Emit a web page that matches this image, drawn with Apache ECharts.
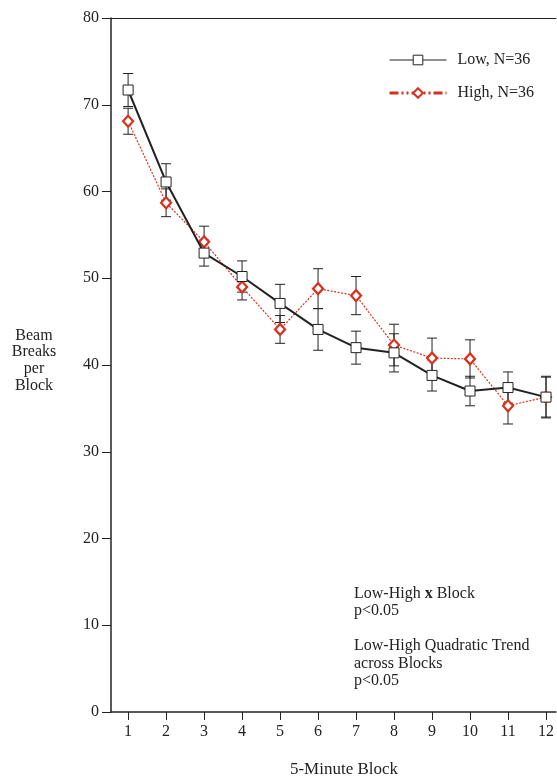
<!DOCTYPE html>
<html><head><meta charset="utf-8">
<script src="https://cdn.jsdelivr.net/npm/echarts@6/dist/echarts.min.js"></script>
<style>html,body{margin:0;padding:0;background:#fff}#c{width:557px;height:780px}</style>
</head><body><div id="c"></div>
<script>
var blocks = [1,2,3,4,5,6,7,8,9,10,11,12];
var lowMean  = [71.7, 61.1, 52.9, 50.2, 47.1, 44.1, 42.0, 41.4, 38.8, 37.0, 37.4, 36.3];
var lowSE    = [1.9, 2.1, 1.5, 1.8, 2.2, 2.4, 1.9, 2.2, 1.8, 1.7, 1.8, 2.4];
var highMean = [68.1, 58.7, 54.2, 49.0, 44.1, 48.8, 48.0, 42.3, 40.8, 40.7, 35.3, 36.3];
var highSE   = [1.5, 1.6, 1.8, 1.5, 1.6, 2.3, 2.2, 2.4, 2.3, 2.2, 2.1, 2.3];
var yTicks = [0,10,20,30,40,50,60,70,80];

var FONT = '"Liberation Serif","DejaVu Serif",serif';
var RED = '#d9301c';

function pairs(m){ return blocks.map(function(b,i){ return [b, m[i]]; }); }
function errData(m, s){ return blocks.map(function(b,i){ return [b, m[i]-s[i], m[i]+s[i]]; }); }

function errRender(params, api){
  var x = api.value(0);
  var lo = api.coord([x, api.value(1)]);
  var hi = api.coord([x, api.value(2)]);
  var w = 5;
  var st = {stroke:'#222', lineWidth:1};
  return {type:'group', children:[
    {type:'line', shape:{x1:lo[0],y1:lo[1],x2:hi[0],y2:hi[1]}, style:st},
    {type:'line', shape:{x1:lo[0]-w,y1:lo[1],x2:lo[0]+w,y2:lo[1]}, style:st},
    {type:'line', shape:{x1:hi[0]-w,y1:hi[1],x2:hi[0]+w,y2:hi[1]}, style:st}
  ]};
}

var chart = echarts.init(document.getElementById('c'));
chart.setOption({
  animation:false,
  backgroundColor:'#fff',
  grid:{left:111, top:18, right:0, bottom:68},
  legend:{
    orient:'vertical', left:383, top:47, itemWidth:57, itemHeight:12, itemGap:17,
    textStyle:{fontFamily:FONT, fontSize:16, color:'#222', padding:[0,0,0,6]},
    data:[
      {name:'Low, N=36', itemStyle:{color:'#fff', borderColor:'#222', borderWidth:1}, lineStyle:{color:'#222', width:1, type:'solid'}},
      {name:'High, N=36', itemStyle:{color:'#fff', borderColor:RED, borderWidth:2}, lineStyle:{color:RED, width:3, type:[9,3,2,3,2,3]}}
    ]
  },
  xAxis:[{
    type:'value', min:0.55, max:12.26,
    axisLine:{show:true, lineStyle:{color:'#222', width:1.5}},
    axisTick:{show:true, customValues:blocks, length:8, lineStyle:{color:'#222', width:1}},
    axisLabel:{customValues:blocks, fontFamily:FONT, fontSize:16, color:'#222', margin:12},
    splitLine:{show:false}
  },{
    type:'value', position:'top', min:0.55, max:12.26,
    axisLine:{show:true, lineStyle:{color:'#222', width:1}},
    axisTick:{show:false}, axisLabel:{show:false}, splitLine:{show:false}
  }],
  yAxis:{
    type:'value', min:0, max:80, interval:10,
    axisLine:{show:true, lineStyle:{color:'#222', width:1.5}},
    axisTick:{show:true, length:9, lineStyle:{color:'#222'}},
    axisLabel:{fontFamily:FONT, fontSize:16, color:'#222', margin:12},
    splitLine:{show:false}
  },
  series:[
    {type:'custom', name:'lowErr', renderItem:errRender, data:errData(lowMean, lowSE), z:1, silent:true},
    {type:'custom', name:'highErr', renderItem:errRender, data:errData(highMean, highSE), z:1, silent:true},
    {type:'line', name:'High, N=36', data:pairs(highMean), symbol:'diamond', symbolSize:[10,11],
     lineStyle:{color:RED, width:1.2, type:[2,1.5]},
     itemStyle:{color:'#fff', borderColor:RED, borderWidth:2.2}, z:3},
    {type:'line', name:'Low, N=36', data:pairs(lowMean), symbol:'rect', symbolSize:10,
     lineStyle:{color:'#222', width:2}, 
     itemStyle:{color:'#fff', borderColor:'#222', borderWidth:1}, z:4}
  ],
  graphic:[
    {type:'text', x:34, y:327, style:{text:'Beam\nBreaks\nper\nBlock', fontFamily:FONT, fontSize:16, fill:'#222', align:'center', lineHeight:16.7}},
    {type:'text', x:344, y:761, style:{text:'5-Minute Block', fontFamily:FONT, fontSize:17, fill:'#222', align:'center'}},
    {type:'text', left:354, top:585, style:{
      text:'Low-High {b|x} Block\np<0.05\n\nLow-High Quadratic Trend\nacross Blocks\np<0.05',
      fontFamily:FONT, fontSize:16, fill:'#222', lineHeight:17.5,
      rich:{b:{fontFamily:FONT, fontSize:16, fontWeight:'bold', fill:'#222', lineHeight:17.5}}
    }}
  ]
});
</script></body></html>
